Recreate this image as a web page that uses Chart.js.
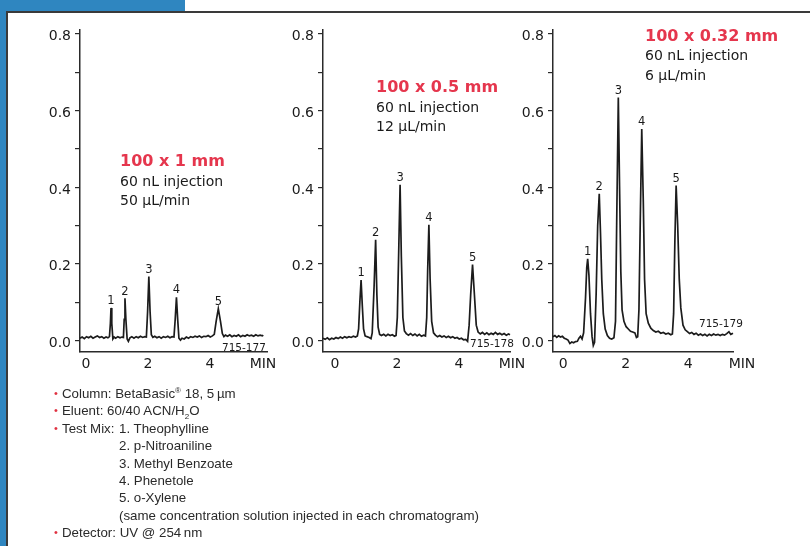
<!DOCTYPE html>
<html>
<head>
<meta charset="utf-8">
<script src="https://cdn.jsdelivr.net/npm/chart.js@4.4.1/dist/chart.umd.min.js"></script>
<style>
  html, body { margin: 0; padding: 0; background: #fff; }
  #page { position: relative; width: 810px; height: 546px; overflow: hidden; background: #fff;
          font-family: "DejaVu Sans", Verdana, sans-serif; color: #222; }
  .blue-top { position: absolute; left: 0; top: 0; width: 185px; height: 11px; background: #2F86C0; }
  .blue-left { position: absolute; left: 0; top: 0; width: 6px; height: 546px; background: #2F86C0; }
  .rule-top { position: absolute; left: 6px; top: 11px; width: 804px; height: 1.5px; background: #3a3a3a; }
  .rule-left { position: absolute; left: 6px; top: 11px; width: 1.5px; height: 535px; background: #3a3a3a; }
  canvas { position: absolute; left: 0; top: 0; }
  .spec { position: absolute; font-size: 14px; line-height: 19.5px; white-space: nowrap; color: #1a1a1a; }
  .spec b { color: #E5364D; font-size: 16px; }
  .unit { position: absolute; width: 40px; text-align: center; font-size: 14px; line-height: 18px; color: #1a1a1a; }
  .code { position: absolute; font-size: 10.5px; line-height: 14px; white-space: nowrap; color: #1a1a1a; }
  #conditions { position: absolute; left: 62px; top: 385px; font-family: "Liberation Sans", Arial, sans-serif;
                font-size: 13.3px; line-height: 17.4px; color: #2a2a2a; white-space: nowrap; }
  #conditions .li { position: relative; height: 17.4px; }
  #conditions .ind { padding-left: 57px; }
  #conditions .dot { position: absolute; left: -8px; top: 0; color: #E03040; font-size: 11px; }
  #conditions .lbl { display: inline-block; width: 57px; }
  #conditions sup, #conditions sub { font-size: 8px; line-height: 0; }
</style>
</head>
<body>
<div id="page">
  <div class="blue-top"></div>
  <div class="blue-left"></div>
  <div class="rule-top"></div>
  <div class="rule-left"></div>

  <canvas id="c177" width="810" height="546"></canvas>
  <canvas id="c178" width="810" height="546"></canvas>
  <canvas id="c179" width="810" height="546"></canvas>

  <div class="spec" style="left:120px; top:151px;"><b>100 x 1 mm</b><br>60 nL injection<br>50 µL/min</div>
  <div class="spec" style="left:376px; top:77px;"><b>100 x 0.5 mm</b><br>60 nL injection<br>12 µL/min</div>
  <div class="spec" style="left:645px; top:25.5px;"><b>100 x 0.32 mm</b><br>60 nL injection<br>6 µL/min</div>

  <div class="unit" style="left:243px; top:354px;">MIN</div>
  <div class="unit" style="left:492px; top:354px;">MIN</div>
  <div class="unit" style="left:722px; top:354px;">MIN</div>

  <div class="code" style="left:222px; top:340px;">715-177</div>
  <div class="code" style="left:470px; top:336px;">715-178</div>
  <div class="code" style="left:699px; top:316px;">715-179</div>

  <div id="conditions">
    <div class="li"><span class="dot">•</span>Column: BetaBasic<sup>®</sup> 18, 5&thinsp;µm</div>
    <div class="li"><span class="dot">•</span>Eluent: 60/40 ACN/H<sub>2</sub>O</div>
    <div class="li"><span class="dot">•</span><span class="lbl">Test Mix:</span>1. Theophylline</div>
    <div class="li ind">2. p-Nitroaniline</div>
    <div class="li ind">3. Methyl Benzoate</div>
    <div class="li ind">4. Phenetole</div>
    <div class="li ind">5. o-Xylene</div>
    <div class="li ind">(same concentration solution injected in each chromatogram)</div>
    <div class="li"><span class="dot">•</span>Detector: UV @ 254&thinsp;nm</div>
  </div>
</div>

<script>
// axis ticks (AU on y, minutes on x)
const yTicks = [0, 0.1, 0.2, 0.3, 0.4, 0.5, 0.6, 0.7, 0.8];
const xTicks = [0, 2, 4];
const peakNumbers = ['1', '2', '3', '4', '5'];

// 100 x 1 mm, 50 µL/min (715-177)
const peakTimes177 = [0.81, 1.26, 2.03, 2.92, 4.27];
const peakHeights177 = [0.085, 0.11, 0.167, 0.113, 0.083];
const baseline177 = [
  [-0.19,0.006],[-0.12,0.009],[-0.05,0.005],[0.02,0.010],[0.09,0.007],[0.16,0.011],[0.23,0.006],[0.3,0.009],
  [0.37,0.012],[0.44,0.008],[0.51,0.010],[0.58,0.006],[0.65,0.009],[0.71,0.007],[0.76,0.010],
  [0.79,0.045],[0.835,0.045],[0.87,0.004],[0.91,0.009],[0.96,0.006],[1.03,0.010],[1.1,0.007],[1.16,0.009],[1.21,0.008],
  [1.235,0.055],[1.29,0.055],[1.33,0.004],[1.37,-0.002],[1.42,0.007],[1.48,0.010],[1.55,0.006],[1.62,0.010],
  [1.69,0.007],[1.76,0.011],[1.83,0.008],[1.9,0.010],[1.95,0.009],
  [1.99,0.075],[2.07,0.075],[2.11,0.015],[2.16,0.008],[2.22,0.011],[2.29,0.007],[2.36,0.010],[2.43,0.006],[2.5,0.010],
  [2.57,0.008],[2.64,0.011],[2.71,0.007],[2.78,0.010],[2.84,0.009],
  [2.88,0.055],[2.96,0.055],[3.0,0.006],[3.05,0.001],[3.1,0.006],[3.17,0.004],[3.24,0.009],[3.31,0.006],[3.38,0.010],
  [3.45,0.008],[3.52,0.011],[3.59,0.009],[3.66,0.012],[3.73,0.008],[3.8,0.011],[3.87,0.010],[3.94,0.013],[4.01,0.009],
  [4.08,0.012],[4.14,0.016],
  [4.2,0.05],[4.34,0.05],[4.4,0.018],[4.45,0.010],[4.5,0.014],[4.57,0.011],[4.64,0.015],[4.71,0.010],[4.78,0.013],
  [4.85,0.011],[4.92,0.015],[4.99,0.010],[5.06,0.013],[5.13,0.011],[5.2,0.015],[5.27,0.012],[5.34,0.014],[5.41,0.011],
  [5.48,0.015],[5.55,0.012],[5.62,0.014],[5.69,0.012],[5.72,0.014]
];

// 100 x 0.5 mm, 12 µL/min (715-178)
const peakTimes178 = [0.84, 1.31, 2.10, 3.03, 4.44];
const peakHeights178 = [0.158, 0.263, 0.406, 0.302, 0.198];
const baseline178 = [
  [-0.39,0.006],[-0.32,0.003],[-0.25,0.007],[-0.18,0.002],[-0.11,0.006],[-0.04,0.004],[0.03,0.008],[0.1,0.005],
  [0.17,0.009],[0.24,0.006],[0.31,0.010],[0.38,0.007],[0.45,0.010],[0.52,0.008],[0.59,0.011],[0.66,0.009],[0.72,0.012],
  [0.76,0.03],[0.8,0.10],[0.88,0.09],[0.92,0.03],[0.97,0.012],[1.03,0.010],[1.1,0.008],[1.16,0.005],
  [1.2,0.02],[1.26,0.14],[1.35,0.12],[1.39,0.035],[1.44,0.016],[1.5,0.013],[1.57,0.016],[1.64,0.012],[1.71,0.016],
  [1.78,0.013],[1.85,0.015],[1.92,0.011],[1.97,0.013],
  [2.01,0.06],[2.06,0.25],[2.14,0.22],[2.19,0.06],[2.24,0.025],[2.3,0.018],[2.37,0.014],[2.44,0.018],[2.51,0.013],
  [2.58,0.017],[2.65,0.012],[2.72,0.016],[2.79,0.011],[2.86,0.014],[2.92,0.012],
  [2.96,0.06],[2.99,0.18],[3.07,0.16],[3.12,0.05],[3.18,0.02],[3.24,0.014],[3.31,0.010],[3.38,0.013],[3.45,0.009],
  [3.52,0.012],[3.59,0.008],[3.66,0.011],[3.73,0.007],[3.8,0.010],[3.87,0.006],[3.94,0.008],[4.01,0.004],[4.08,0.006],
  [4.15,0.002],[4.22,0.003],[4.28,-0.002],
  [4.33,0.04],[4.38,0.12],[4.5,0.12],[4.56,0.04],[4.62,0.022],[4.69,0.017],[4.76,0.021],[4.83,0.016],[4.9,0.020],
  [4.97,0.015],[5.04,0.019],[5.11,0.016],[5.18,0.021],[5.25,0.016],[5.32,0.019],[5.39,0.015],[5.46,0.018],[5.53,0.014],
  [5.6,0.017],[5.65,0.015]
];

// 100 x 0.32 mm, 6 µL/min (715-179)
const peakTimes179 = [0.78, 1.15, 1.76, 2.51, 3.61];
const peakHeights179 = [0.213, 0.383, 0.634, 0.552, 0.404];
const baseline179 = [
  [-0.33,0.010],[-0.27,0.013],[-0.21,0.008],[-0.15,0.012],[-0.09,0.009],[-0.03,0.011],[0.03,0.006],[0.09,0.004],
  [0.15,0.001],[0.21,-0.008],[0.27,-0.004],[0.33,-0.006],[0.39,-0.003],[0.45,-0.002],[0.5,0.006],[0.55,0.011],
  [0.6,0.004],[0.65,0.02],
  [0.71,0.11],[0.75,0.19],[0.82,0.17],[0.87,0.07],[0.92,0.01],[0.96,-0.013],
  [1.0,-0.005],[1.05,0.12],[1.1,0.3],[1.19,0.28],[1.23,0.16],[1.28,0.07],[1.34,0.03],[1.41,0.013],[1.48,0.006],
  [1.55,0.004],[1.62,0.007],
  [1.67,0.05],[1.71,0.32],[1.8,0.4],[1.84,0.18],[1.88,0.08],[1.94,0.05],[2.01,0.036],[2.08,0.03],[2.15,0.024],
  [2.22,0.022],[2.29,0.02],[2.34,0.008],[2.38,0.01],
  [2.42,0.08],[2.46,0.3],[2.56,0.36],[2.6,0.16],[2.65,0.07],[2.72,0.045],[2.8,0.032],[2.88,0.026],[2.96,0.022],
  [3.04,0.024],[3.12,0.019],[3.2,0.021],[3.28,0.017],[3.36,0.019],[3.44,0.015],[3.49,0.017],
  [3.53,0.07],[3.57,0.26],[3.66,0.3],[3.71,0.16],[3.76,0.085],[3.83,0.04],[3.9,0.028],[3.97,0.023],[4.04,0.018],
  [4.11,0.021],[4.18,0.016],[4.25,0.019],[4.32,0.014],[4.39,0.017],[4.46,0.013],[4.53,0.016],[4.6,0.012],[4.67,0.016],
  [4.74,0.013],[4.81,0.017],[4.88,0.014],[4.95,0.016],[5.02,0.013],[5.09,0.016],[5.16,0.014],[5.23,0.018],[5.3,0.023],
  [5.36,0.016],[5.43,0.019],[5.5,0.015],[5.57,0.018],[5.65,0.016]
];

const INK = '#1a1a1a';
const AXIS = '#2a2a2a';
const TICK_FONT = { family: 'DejaVu Sans', size: 14 };

// baseline points + peak apexes, in time order
function buildTrace(baseline, times, heights) {
  const pts = baseline.map(p => ({ x: p[0], y: p[1] }));
  times.forEach((t, i) => pts.push({ x: t, y: heights[i] }));
  return pts.sort((a, b) => a.x - b.x);
}

function makePanel(id, baseline, times, heights, xMin, xMax, pad) {
  // peak numbers just above each apex
  const peakLabels = {
    id: 'peakLabels',
    afterDatasetsDraw(chart) {
      const { ctx, scales: { x, y } } = chart;
      ctx.save();
      ctx.font = '11.5px "DejaVu Sans"';
      ctx.fillStyle = INK;
      ctx.textAlign = 'center';
      ctx.textBaseline = 'bottom';
      times.forEach((t, i) => {
        ctx.fillText(peakNumbers[i], x.getPixelForValue(t), y.getPixelForValue(heights[i]) - 1);
      });
      ctx.restore();
    }
  };

  return new Chart(document.getElementById(id), {
    type: 'line',
    data: {
      datasets: [{
        data: buildTrace(baseline, times, heights),
        borderColor: '#1c1c1c',
        borderWidth: 1.7,
        pointRadius: 0,
        tension: 0,
        clip: false
      }]
    },
    options: {
      responsive: false,
      animation: false,
      events: [],
      layout: { padding: pad },
      plugins: { legend: { display: false }, tooltip: { enabled: false } },
      scales: {
        x: {
          type: 'linear', min: xMin, max: xMax,
          afterBuildTicks: s => { s.ticks = xTicks.map(v => ({ value: v })); },
          afterFit: s => { s.height = 30; s.paddingLeft = 0; s.paddingRight = 0; },
          grid: { display: false, drawTicks: false },
          border: { display: true, color: AXIS, width: 1.5 },
          ticks: { color: INK, font: TICK_FONT, padding: 4, maxRotation: 0, autoSkip: false }
        },
        y: {
          min: -0.03, max: 0.81,
          afterBuildTicks: s => { s.ticks = yTicks.map(v => ({ value: v })); },
          afterFit: s => { s.width = 60; s.paddingTop = 0; s.paddingBottom = 0; },
          grid: { drawOnChartArea: false, drawTicks: true, tickLength: 5, color: AXIS, lineWidth: 1.2 },
          border: { display: true, color: AXIS, width: 1.5 },
          ticks: {
            color: INK, font: TICK_FONT, padding: 4, labelOffset: 3, autoSkip: false,
            callback: v => (Math.round(v * 10) % 2 === 0 ? v.toFixed(1) : '')
          }
        }
      }
    },
    plugins: [peakLabels]
  });
}

makePanel('c177', baseline177, peakTimes177, peakHeights177, -0.19, 5.84, { left: 20, right: 543, top: 30, bottom: 164 });
makePanel('c178', baseline178, peakTimes178, peakHeights178, -0.39, 5.65, { left: 263, right: 300, top: 30, bottom: 164 });
makePanel('c179', baseline179, peakTimes179, peakHeights179, -0.33, 5.43, { left: 493, right: 77, top: 30, bottom: 164 });
</script>
</body>
</html>
